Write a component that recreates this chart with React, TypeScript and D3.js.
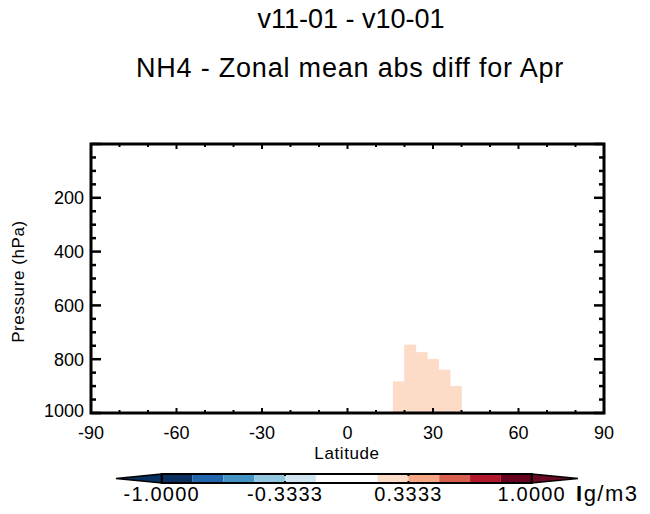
import React from "react";
import * as d3 from "d3";

// ---- data ----
const titleLines = ["v11-01 - v10-01", "NH4 - Zonal mean abs diff for Apr"];
const latTicks = [-90, -60, -30, 0, 30, 60, 90];
const presTicks = [200, 400, 600, 800, 1000];
// grid cells with non-zero difference (lat edges, top pressure, value)
const cellLatLo = [16, 20, 24, 28, 32, 36];
const cellLatHi = [20, 24, 28, 32, 36, 40];
const cellTopP = [884, 747, 774, 800, 840, 900];
const cellBotP = [1000, 1000, 1000, 1000, 1000, 1000];
const cellValues = [0.22, 0.25, 0.24, 0.23, 0.22, 0.2];
// colour levels
const levelEdges = [-1, -5 / 6, -4 / 6, -3 / 6, -2 / 6, -1 / 6, 0, 1 / 6, 2 / 6, 3 / 6, 4 / 6, 5 / 6, 1];
const levelColors = [
  "#0a2f5f", "#2166ac", "#4393c3", "#92c5de", "#d1e5f0", "#ffffff",
  "#ffffff", "#fcdbc7", "#f4a582", "#d6604d", "#b2182b", "#67001f",
];
const underColor = "#08305e";
const overColor = "#6a0a22";
const cbarLabels = ["-1.0000", "-0.3333", "0.3333", "1.0000"];
const cbarLabelVals = [-1, -1 / 3, 1 / 3, 1];
const unitsLabel = ["I", "g/m3"];

const FONT = "'Liberation Sans', Arial, Helvetica, sans-serif";

export default function App() {
  const L = 91, R = 604, T = 144, B = 413;
  const x = d3.scaleLinear().domain([-90, 90]).range([L, R]);
  const y = d3.scaleLinear().domain([0, 1000]).range([T, B]);
  const color = d3.scaleThreshold<number, string>()
    .domain(levelEdges.slice(1, -1))
    .range(levelColors);

  const cbL = 161.7, cbR = 531.7, cbT = 474, cbB = 483;
  const cbx = d3.scaleLinear().domain([-1, 1]).range([cbL, cbR]);
  const cbMid = (cbT + cbB) / 2;

  const latMinor = d3.range(-90, 91, 10);
  const presMinor = d3.range(0, 1001, 50);

  return (
    <svg width={650} height={514} style={{ position: "absolute", left: 0, top: 0, background: "#fff" }}
      fontFamily={FONT}>
      <rect x={0} y={0} width={650} height={514} fill="#fff" />
      <text x={351} y={28} fontSize={27} textAnchor="middle">{titleLines[0]}</text>
      <text x={350} y={77} fontSize={27} letterSpacing={0.8} textAnchor="middle">{titleLines[1]}</text>

      {/* data cells */}
      {cellValues.map((v, i) => (
        <rect key={i}
          x={x(cellLatLo[i])} width={x(cellLatHi[i]) - x(cellLatLo[i])}
          y={y(cellTopP[i])} height={y(cellBotP[i]) - y(cellTopP[i])}
          fill={color(v)} stroke={color(v)} strokeWidth={0.5} />
      ))}

      {/* ticks */}
      <g stroke="#000" strokeWidth={2}>
        {latMinor.map((d) => {
          const major = d % 30 === 0;
          const len = major ? 5 : 3;
          return (
            <g key={"lx" + d}>
              <line x1={x(d)} x2={x(d)} y1={B} y2={B - len} />
              <line x1={x(d)} x2={x(d)} y1={T} y2={T + len} />
            </g>
          );
        })}
        {presMinor.map((p) => {
          const major = p % 200 === 0;
          const len = major ? 10 : 5;
          return (
            <g key={"py" + p}>
              <line x1={L} x2={L + len} y1={y(p)} y2={y(p)} strokeWidth={2.5} />
              <line x1={R} x2={R - len} y1={y(p)} y2={y(p)} strokeWidth={2.5} />
            </g>
          );
        })}
      </g>
      {/* frame */}
      <rect x={L} y={T} width={R - L} height={B - T} fill="none" stroke="#000" strokeWidth={3} />

      {/* tick labels */}
      {latTicks.map((d) => (
        <text key={"xt" + d} x={x(d)} y={439} fontSize={18} textAnchor="middle">{d}</text>
      ))}
      {presTicks.map((p) => (
        <text key={"yt" + p} x={84} y={Math.min(y(p) + 6.5, 417)} fontSize={18} textAnchor="end">{p}</text>
      ))}
      <text x={347} y={459} fontSize={17} letterSpacing={0.6} textAnchor="middle">Latitude</text>
      <text transform={`translate(24,${(T + B) / 2 + 3}) rotate(-90)`} fontSize={17} letterSpacing={0.6}
        textAnchor="middle">
        Pressure (hPa)
      </text>

      {/* colorbar */}
      {levelColors.map((c, i) => (
        <rect key={"cb" + i} x={cbx(levelEdges[i])} width={cbx(levelEdges[i + 1]) - cbx(levelEdges[i])}
          y={cbT} height={cbB - cbT} fill={c} />
      ))}
      <path d={`M${cbL},${cbT} L116,${cbMid} L${cbL},${cbB} Z`} fill={underColor} stroke="#000" strokeWidth={1.5} />
      <path d={`M${cbR},${cbT} L578,${cbMid} L${cbR},${cbB} Z`} fill={overColor} stroke="#000" strokeWidth={1.5} />
      <rect x={cbL} y={cbT} width={cbR - cbL} height={cbB - cbT} fill="none" stroke="#000" strokeWidth={2} />
      {cbarLabelVals.map((v, i) => (
        <g key={"cbt" + i}>
          <line x1={cbx(v)} x2={cbx(v)} y1={cbT} y2={cbT + 2} stroke="#000" strokeWidth={2} />
          <line x1={cbx(v)} x2={cbx(v)} y1={cbB} y2={cbB - 2} stroke="#000" strokeWidth={2} />
          <text x={cbx(v)} y={501} fontSize={20} letterSpacing={1.2} textAnchor="middle">{cbarLabels[i]}</text>
        </g>
      ))}
      <text x={576} y={501} fontSize={22} letterSpacing={1.5}>
        <tspan fontWeight="bold">{unitsLabel[0]}</tspan>
        <tspan>{unitsLabel[1]}</tspan>
      </text>
    </svg>
  );
}
